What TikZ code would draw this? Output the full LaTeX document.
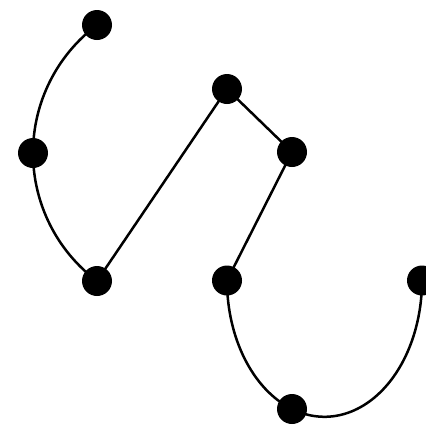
\documentclass[tikz,border=0pt]{standalone}
\begin{document}
\begin{tikzpicture}[x=1pt,y=-1pt,
  dot/.style={circle,fill=black,inner sep=0pt,minimum size=30pt},
  edge/.style={line width=2.5pt,black}]
\useasboundingbox (0,0) rectangle (426,429);
\node[dot] (a) at (97,25) {};
\node[dot] (b) at (33,153) {};
\node[dot] (c) at (97,281) {};
\node[dot] (d) at (227,89) {};
\node[dot] (e) at (292,152) {};
\node[dot] (f) at (227,280.5) {};
\node[dot] (g) at (292,409) {};
\node[dot] (h) at (422,280.5) {};
\draw[edge] (a.center) arc[start angle=233.13, end angle=180, radius=160];
\draw[edge] (b.center) arc[start angle=180, end angle=126.87, radius=160];
\draw[edge] (c.center) -- (d.center) -- (e.center) -- (f.center);
\draw[edge] (f.center) arc[start angle=180, end angle=109.47, x radius=97.5, y radius=136.3];
\draw[edge] (g.center) arc[start angle=109.47, end angle=0, x radius=97.5, y radius=136.3];
\end{tikzpicture}
\end{document}
